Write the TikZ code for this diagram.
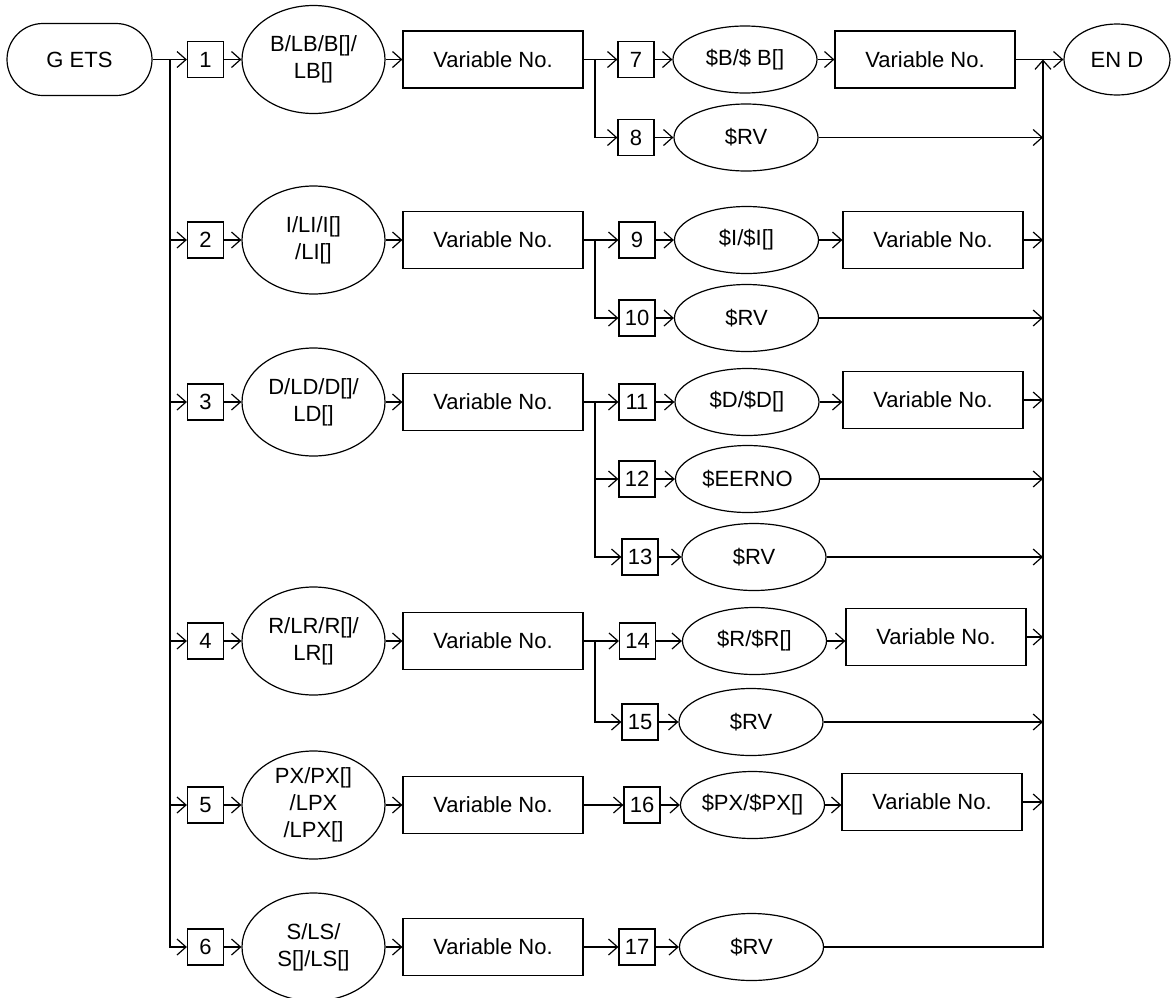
\documentclass[tikz,border=0pt]{standalone}
\usepackage{fontspec}
\setmainfont{Liberation Sans}
\usetikzlibrary{arrows.meta,shapes.geometric}
\begin{document}
\begin{tikzpicture}[x=1pt,y=-1pt,
  every node/.style={font=\fontsize{22}{27}\selectfont},
  conn/.style={line width=1.2pt},
  arr/.style={line width=1.2pt,-{Straight Barb[length=9pt,width=16pt]}},
  numbox/.style={draw, line width=1.2pt, minimum width=36pt, minimum height=36pt, inner sep=0pt},
  lell/.style={draw, line width=1.2pt, ellipse, minimum width=143pt, minimum height=108pt, inner sep=0pt},
  rell/.style={draw, line width=1.2pt, ellipse, minimum width=144pt, minimum height=67pt, inner sep=0pt},
  vbox/.style={draw, line width=1.2pt, minimum width=180pt, minimum height=57pt, inner sep=0pt},
  ltxt/.style={align=center, draw=none, inner sep=0pt},
  termnode/.style={draw, line width=1.2pt, rounded corners=36pt, minimum width=145pt, minimum height=72pt, inner sep=0pt}
]
\useasboundingbox (0,0) rectangle (1171,997);

% start / end
\node[termnode] (g) at (79.5,59.5) {G ETS};
\node[draw, line width=1.2pt, ellipse, minimum width=106pt, minimum height=71pt, inner sep=0pt] (end) at (1117,59.5) {};
\node[ltxt] (endt) at (end.center) {EN D};

% left column: number boxes, ellipses, variable boxes
\node[numbox] (b1) at (205.5,59.5) {1};
\node[numbox] (b2) at (205.5,240) {2};
\node[numbox] (b3) at (205.5,402) {3};
\node[numbox] (b4) at (205.5,641) {4};
\node[numbox] (b5) at (205.5,805) {5};
\node[numbox] (b6) at (205.5,947) {6};

\node[lell, label={[ltxt]center:{B/LB/B[]/\\LB[]}}] (e1) at (313.5,59.5) {};
\node[lell, label={[ltxt]center:{I/LI/I[]\\/LI[]}}] (e2) at (313.5,240) {};
\node[lell, label={[ltxt]center:{D/LD/D[]/\\LD[]}}] (e3) at (313.5,402) {};
\node[lell, label={[ltxt]center:{R/LR/R[]/\\LR[]}}] (e4) at (313.5,641) {};
\node[lell, label={[ltxt]center:{PX/PX[]\\/LPX\\/LPX[]}}] (e5) at (313.5,805) {};
\node[lell, label={[ltxt]center:{S/LS/\\S[]/LS[]}}] (e6) at (313.5,947) {};

\node[vbox] (v1) at (493,59.5) {Variable No.};
\node[vbox] (v2) at (493,240) {Variable No.};
\node[vbox] (v3) at (493,402) {Variable No.};
\node[vbox] (v4) at (493,641) {Variable No.};
\node[vbox] (v5) at (493,805) {Variable No.};
\node[vbox] (v6) at (493,947) {Variable No.};

% right column number boxes
\node[numbox] (b7) at (636,59.5) {7};
\node[numbox] (b8) at (636,137.5) {8};
\node[numbox] (b9) at (637,240) {9};
\node[numbox] (b10) at (637,318) {10};
\node[numbox] (b11) at (637,402) {11};
\node[numbox] (b12) at (637,479) {12};
\node[numbox] (b13) at (640,557) {13};
\node[numbox] (b14) at (637.5,641) {14};
\node[numbox] (b15) at (640,722) {15};
\node[numbox] (b16) at (642,805) {16};
\node[numbox] (b17) at (637,947) {17};

% right column ellipses
\node[rell, label={[ltxt]center:{\$B/\$ B[]}}] (e7) at (745,59.5) {};
\node[rell, label={[ltxt]center:{\$RV}}] (e8) at (746,137.5) {};
\node[rell, label={[ltxt]center:{\$I/\$I[]}}] (e9) at (746.5,240) {};
\node[rell, label={[ltxt]center:{\$RV}}] (e10) at (746.5,318) {};
\node[rell, label={[ltxt]center:{\$D/\$D[]}}] (e11) at (747,402) {};
\node[rell, label={[ltxt]center:{\$EERNO}}] (e12) at (747.5,479) {};
\node[rell, label={[ltxt]center:{\$RV}}] (e13) at (754,557) {};
\node[rell, label={[ltxt]center:{\$R/\$R[]}}] (e14) at (754.5,641) {};
\node[rell, label={[ltxt]center:{\$RV}}] (e15) at (751,722) {};
\node[rell, label={[ltxt]center:{\$PX/\$PX[]}}] (e16) at (752.5,805) {};
\node[rell, label={[ltxt]center:{\$RV}}] (e17) at (751.5,947) {};

% right variable boxes
\node[vbox] (w1) at (925,59.5) {Variable No.};
\node[vbox] (w2) at (933,240) {Variable No.};
\node[vbox] (w3) at (933,400) {Variable No.};
\node[vbox] (w4) at (936,637) {Variable No.};
\node[vbox] (w5) at (932,802) {Variable No.};

% junction coordinates
\coordinate (L1) at (170,59.5);
\coordinate (M1) at (595,59.5);
\coordinate (M2) at (595,240);
\coordinate (M3) at (595,402);
\coordinate (M4) at (595,641);
\coordinate (R1) at (1043,59.5);

% left trunk
\draw[arr] (g.east) -- (b1.west);
\foreach \k in {2,3,4,5,6} { \draw[arr] (L1) |- (b\k.west); }
% left rows
\foreach \k in {1,...,6} {
  \draw[arr] (b\k.east) -- (e\k.west);
  \draw[arr] (e\k.east) -- (v\k.west);
}
% branches
\draw[arr] (v1.east) -- (b7.west);
\draw[arr] (M1) |- (b8.west);
\draw[arr] (v2.east) -- (b9.west);
\draw[arr] (M2) |- (b10.west);
\draw[arr] (v3.east) -- (b11.west);
\draw[arr] (M3) |- (b12.west);
\draw[arr] (M3) |- (b13.west);
\draw[arr] (v4.east) -- (b14.west);
\draw[arr] (M4) |- (b15.west);
\draw[arr] (v5.east) -- (b16.west);
\draw[arr] (v6.east) -- (b17.west);
% number box to ellipse
\foreach \k in {7,...,17} { \draw[arr] (b\k.east) -- (e\k.west); }
% ellipse to variable box
\draw[arr] (e7.east) -- (w1.west);
\draw[arr] (e9.east) -- (w2.west);
\draw[arr] (e11.east) -- (e11.east -| w3.west);
\draw[arr] (e14.east) -- (e14.east -| w4.west);
\draw[arr] (e16.east) -- (e16.east -| w5.west);
% into right trunk
\draw[arr] (w1.east) -- (end.west);
\draw[arr] (e17.east) -| (R1);
\draw[arr] (e8.east) -- (e8.east -| R1);
\draw[arr] (w2.east) -- (w2.east -| R1);
\draw[arr] (e10.east) -- (e10.east -| R1);
\draw[arr] (w3.east) -- (w3.east -| R1);
\draw[arr] (e12.east) -- (e12.east -| R1);
\draw[arr] (e13.east) -- (e13.east -| R1);
\draw[arr] (w4.east) -- (w4.east -| R1);
\draw[arr] (e15.east) -- (e15.east -| R1);
\draw[arr] (w5.east) -- (w5.east -| R1);
\end{tikzpicture}
\end{document}
